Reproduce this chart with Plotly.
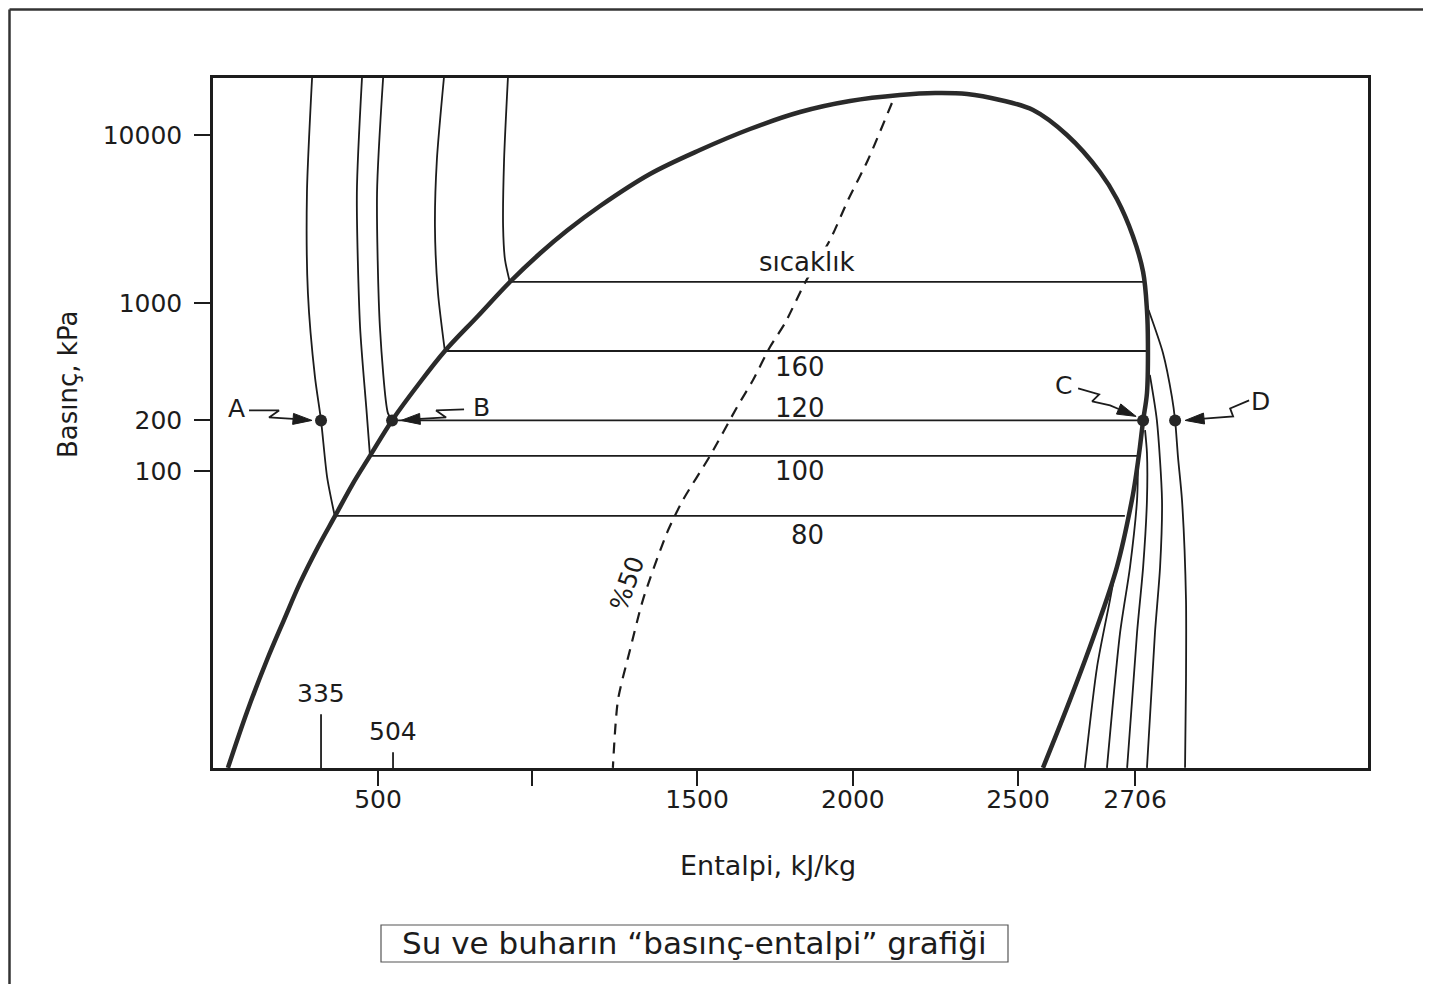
import numpy as np
import plotly.graph_objects as go

# ---------------- axes (schematic enthalpy axis, log pressure axis) ----------------
X_RANGE = [-15.6, 3593.75]
Y_RANGE_LOG = [0.2321, 4.3393]

x_tick_pos = [500, 981, 1497, 1984, 2500, 2866]
x_tick_text = ["500", "", "1500", "2000", "2500", "2706"]
y_tick_vals = [100, 200, 1000, 10000]
y_tick_text = ["100", "200", "1000", "10000"]

# ---------------- saturation dome (kJ/kg, kPa) ----------------
dome_h = [31, 90.6, 153, 206, 256, 312.5, 366, 419, 475, 544, 625, 709, 812.5, 912, 1006,
          1091, 1194, 1350, 1506, 1662.5, 1819, 1975, 2131, 2241, 2341, 2444, 2547, 2653,
          2756, 2809, 2859, 2891, 2903, 2906, 2903, 2891, 2881, 2869, 2856, 2809, 2740.6,
          2662.5, 2578]
dome_p = [1.71, 3.68, 7.5, 12.97, 21.5, 35.3, 54, 82.5, 123, 200, 325, 518, 837, 1334, 1971,
          2701, 3780, 5861, 8142, 10857, 13708, 15940, 17300, 17783, 17539, 16160, 14084, 10000,
          6024, 4159, 2505, 1529, 908, 578, 291, 200, 139, 94.7, 67.2, 26.8, 10.9,
          4.34, 1.71]

# ---------------- isobars inside the dome ----------------
isobar_p = [1334, 518, 200, 123, 54]
isobar_h_left = [912, 709, 544, 475, 366]
isobar_h_right = [2897, 2900, 2891, 2872, 2834]

# ---------------- liquid-side isotherms ----------------
liq_h = [
    [294, 278, 281, 303, 322, 341, 364],
    [450, 434, 444, 464, 475],
    [516, 497, 506, 531, 544],
    [706, 684, 678, 687.5, 709],
    [906, 894, 891, 897, 912],
]
liq_p = [
    [21840, 4516, 1147, 363, 200, 92, 55],
    [21840, 4516, 720, 231, 123],
    [21840, 4516, 720, 221, 200],
    [21840, 7101, 2835, 1147, 518],
    [21840, 7101, 2835, 1803, 1334],
]

# ---------------- vapour-side isotherms ----------------
vap_h = [
    [2803, 2787.5, 2747, 2709],
    [2875, 2872, 2850, 2819, 2778],
    [2897, 2903, 2903, 2891, 2872, 2841],
    [2912, 2934, 2950, 2944, 2928, 2903],
    [2908, 2953, 2981, 2991, 3000, 3012.5, 3025, 3025, 3022],
]
vap_p = [
    [24.7, 17.1, 6.81, 1.71],
    [116, 67.2, 26.8, 10.9, 1.71],
    [175, 128, 67.2, 26.8, 10.9, 1.71],
    [373, 200, 67.2, 26.8, 10.9, 1.71],
    [908, 504, 276, 200, 121, 67.2, 17.1, 5.7, 1.71],
]

# ---------------- 50 % quality line ----------------
q50_h = [2106, 2031, 1969, 1912.5, 1834, 1772, 1725, 1672, 1622, 1537.5, 1453, 1403,
         1328, 1287.5, 1250, 1234]
q50_p = [15507, 7101, 4103, 2371, 1315, 760, 547, 348, 240, 123, 67.2, 42.8,
         17.1, 8.6, 4.34, 1.71]

# ---------------- labels ----------------
temp_labels = ["sıcaklık", "160", "120", "100", "80"]
temp_label_h = [1841, 1819, 1819, 1819, 1841]
temp_label_p = [1754, 416, 237, 100, 41.6]

point_names = ["A", "B", "C", "D"]
point_h = [322, 544, 2891, 2991]
point_p = [200, 200, 200, 200]
letter_h = [59, 822, 2641, 3259]
letter_p = [237, 240, 321, 261]

mark_labels = ["335", "504"]
mark_pos = [322, 547]

FONT = "DejaVu Sans"
INK = "#1c1c1c"
PAGE_OFF = 8                      # browser body margin
W, H = 1415, 976
ML, MR, MT, MB = 205, 55, 70, 216
PW, PH = W - ML - MR, H - MT - MB
PX_PER_H = PW / (X_RANGE[1] - X_RANGE[0])
PX_PER_DEC = PH / (Y_RANGE_LOG[1] - Y_RANGE_LOG[0])


def px_offset(h, p, dx, dy):
    return h + dx / PX_PER_H, p * 10 ** (dy / PX_PER_DEC)


def px2paper_x(px):
    return (px - PAGE_OFF - ML) / PW


def px2paper_y(py):
    return (H - MB - (py - PAGE_OFF)) / PH


fig = go.Figure()

line_thin = dict(color=INK, width=1.8)
SM = 0.7

for hs, ps in zip(liq_h, liq_p):
    fig.add_trace(go.Scatter(x=hs, y=ps, mode="lines", line=dict(**line_thin, shape="spline", smoothing=SM),
                             hoverinfo="skip", showlegend=False))
for hs, ps in zip(vap_h, vap_p):
    fig.add_trace(go.Scatter(x=hs, y=ps, mode="lines", line=dict(**line_thin, shape="spline", smoothing=SM),
                             hoverinfo="skip", showlegend=False))
for p, h0, h1 in zip(isobar_p, isobar_h_left, isobar_h_right):
    fig.add_trace(go.Scatter(x=[h0, h1], y=[p, p], mode="lines", line=line_thin,
                             hoverinfo="skip", showlegend=False))

fig.add_trace(go.Scatter(x=q50_h, y=q50_p, mode="lines",
                         line=dict(color=INK, width=2.2, dash="11px,8px", shape="spline", smoothing=SM),
                         hoverinfo="skip", showlegend=False))

fig.add_trace(go.Scatter(x=dome_h, y=dome_p, mode="lines",
                         line=dict(color="#2a2a2a", width=4.5, shape="spline", smoothing=1.0),
                         hoverinfo="skip", showlegend=False))

fig.add_trace(go.Scatter(x=point_h, y=point_p, mode="markers",
                         marker=dict(size=12, color="#262626"), hoverinfo="skip", showlegend=False))

# zig-zag arrows (pixel offsets from each target point, y up)
arrow_defs = {
    "A": ([(-72, 10), (-42, 10), (-52, 3), (-34, 2)], (-9, 0)),
    "B": ([(72, 11), (44, 10), (54, 3), (34, 2)], (9, 0)),
    "C": ([(-65, 32), (-44, 26), (-51, 19), (-33, 15)], (-7, 4)),
    "D": ([(74, 20), (55, 12), (58, 4), (40, 3)], (10, 0)),
}
for name, h, p in zip(point_names, point_h, point_p):
    shaft, tip = arrow_defs[name]
    q = np.array(shaft[-1], float)
    t = np.array(tip, float)
    u = (t - q) / np.linalg.norm(t - q)
    perp = np.array([-u[1], u[0]])
    base = t - 19 * u
    c1 = base + 5.5 * perp
    c2 = base - 5.5 * perp
    pts = list(shaft) + [tuple(base)]
    xs, ys = zip(*[px_offset(h, p, dx, dy) for dx, dy in pts])
    fig.add_trace(go.Scatter(x=list(xs), y=list(ys), mode="lines", line=dict(color=INK, width=1.8),
                             hoverinfo="skip", showlegend=False))
    hx, hy = zip(*[px_offset(h, p, dx, dy) for dx, dy in [tuple(t), tuple(c1), tuple(c2), tuple(t)]])
    fig.add_trace(go.Scatter(x=list(hx), y=list(hy), mode="lines", fill="toself", fillcolor=INK,
                             line=dict(color=INK, width=1), hoverinfo="skip", showlegend=False))

annotations = []
for txt, h, p in zip(temp_labels, temp_label_h, temp_label_p):
    annotations.append(dict(x=h, y=np.log10(p), xref="x", yref="y", text=txt, showarrow=False,
                            xanchor="center", yanchor="middle",
                            font=dict(family=FONT, size=26, color=INK),
                            bgcolor="white" if txt == "sıcaklık" else None, borderpad=0))
annotations.append(dict(x=1278, y=np.log10(21.5), xref="x", yref="y", text="%50", showarrow=False,
                        xanchor="center", yanchor="middle",
                        textangle=-70, font=dict(family=FONT, size=25, color=INK)))
for name, h, p in zip(point_names, letter_h, letter_p):
    annotations.append(dict(x=h, y=np.log10(p), xref="x", yref="y", text=name, showarrow=False,
                            xanchor="center", yanchor="middle",
                            font=dict(family=FONT, size=25, color=INK)))
mark_heights = [0.078, 0.023]
for lab, pos, ht in zip(mark_labels, mark_pos, mark_heights):
    annotations.append(dict(x=pos, y=ht + 0.006, xref="x", yref="paper", text=lab, showarrow=False,
                            xanchor="center", yanchor="bottom",
                            font=dict(family=FONT, size=25, color=INK)))

annotations.append(dict(x=px2paper_x(768), y=px2paper_y(865), xref="paper", yref="paper",
                        xanchor="center", yanchor="middle",
                        text="Entalpi, kJ/kg", showarrow=False,
                        font=dict(family=FONT, size=27, color=INK)))
annotations.append(dict(x=px2paper_x(68), y=px2paper_y(385), xref="paper", yref="paper",
                        xanchor="center", yanchor="middle",
                        text="Basınç, kPa", showarrow=False, textangle=-90,
                        font=dict(family=FONT, size=26, color=INK)))
annotations.append(dict(x=px2paper_x(694), y=px2paper_y(943), xref="paper", yref="paper",
                        xanchor="center", yanchor="middle",
                        text="Su ve buharın “basınç-entalpi” grafiği", showarrow=False,
                        font=dict(family=FONT, size=31, color=INK)))

shapes = []
for pos, ht in zip(mark_pos, mark_heights):
    shapes.append(dict(type="line", xref="x", yref="paper", x0=pos, x1=pos, y0=0, y1=ht,
                       line=dict(color=INK, width=1.8)))
shapes.append(dict(type="rect", xref="paper", yref="paper",
                   x0=px2paper_x(381), x1=px2paper_x(1008), y0=px2paper_y(962), y1=px2paper_y(925),
                   line=dict(color="#555555", width=1.2)))
shapes.append(dict(type="line", xref="paper", yref="paper",
                   x0=px2paper_x(9.5), x1=px2paper_x(9.5), y0=px2paper_y(990), y1=px2paper_y(9.5),
                   line=dict(color="#333333", width=2.5)))
shapes.append(dict(type="line", xref="paper", yref="paper",
                   x0=px2paper_x(9.5), x1=px2paper_x(1431), y0=px2paper_y(9.5), y1=px2paper_y(9.5),
                   line=dict(color="#333333", width=2.5)))

fig.update_layout(
    width=W, height=H, autosize=False,
    margin=dict(l=ML, r=MR, t=MT, b=MB, pad=0),
    paper_bgcolor="white", plot_bgcolor="white",
    showlegend=False,
    annotations=annotations, shapes=shapes,
    xaxis=dict(range=X_RANGE, type="linear", showgrid=False, zeroline=False,
               showline=True, linecolor=INK, linewidth=2.5, mirror=True,
               ticks="outside", ticklen=15, tickwidth=2, tickcolor=INK,
               tickvals=x_tick_pos, ticktext=x_tick_text, ticklabelstandoff=-8,
               tickfont=dict(family=FONT, size=25, color=INK)),
    yaxis=dict(range=Y_RANGE_LOG, type="log", showgrid=False, zeroline=False,
               showline=True, linecolor=INK, linewidth=2.5, mirror=True,
               ticks="outside", ticklen=16, tickwidth=2, tickcolor=INK,
               tickvals=y_tick_vals, ticktext=y_tick_text, ticklabelstandoff=7,
               tickfont=dict(family=FONT, size=25, color=INK)),
)

fig.write_html("out.html")
